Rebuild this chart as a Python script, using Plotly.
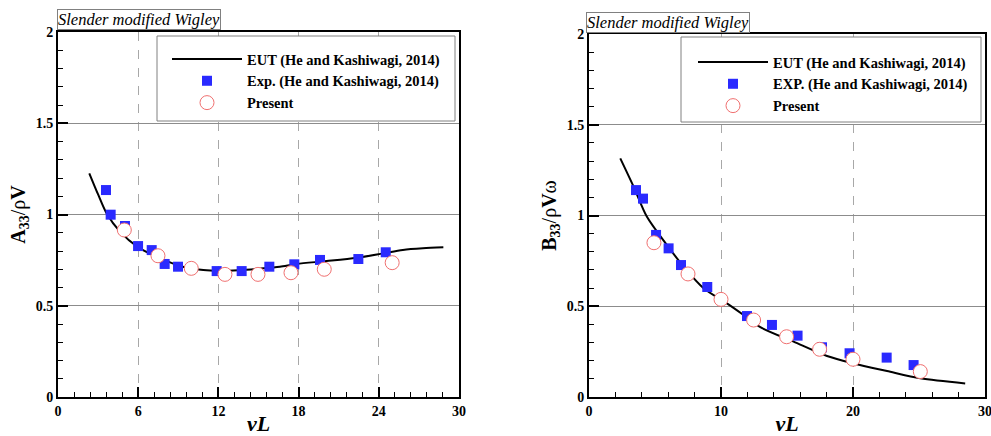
import plotly.graph_objects as go

# ---------------- data: added mass A33/rhoV ----------------
a_eut_x = [2.34, 3.0, 3.63, 4.64, 6.0, 7.38, 9.13, 10.87, 12.1, 13.5, 15.36, 16.6, 17.86, 20.1, 22.34, 24.3, 25.8, 27.3, 28.83]
a_eut_y = [1.226, 1.11, 1.007, 0.906, 0.820, 0.769, 0.718, 0.696, 0.692, 0.695, 0.705, 0.714, 0.729, 0.745, 0.763, 0.787, 0.806, 0.815, 0.820]
a_exp_x = [3.59, 3.94, 5.01, 5.99, 7.01, 7.98, 8.98, 11.87, 13.74, 15.81, 17.68, 19.6, 22.47, 24.52]
a_exp_y = [1.134, 0.999, 0.937, 0.827, 0.805, 0.729, 0.714, 0.690, 0.690, 0.714, 0.727, 0.751, 0.756, 0.793]
a_pre_x = [4.96, 7.48, 9.97, 12.49, 14.96, 17.43, 19.92, 25.0]
a_pre_y = [0.915, 0.774, 0.705, 0.672, 0.672, 0.681, 0.700, 0.736]

# ---------------- data: damping B33/rhoVw ----------------
b_eut_x = [2.37, 3.38, 4.39, 5.91, 7.17, 8.68, 10.45, 11.71, 12.98, 15.5, 18.03, 20.05, 22.58, 25.1, 28.5]
b_eut_y = [1.315, 1.159, 0.993, 0.837, 0.718, 0.599, 0.516, 0.452, 0.385, 0.305, 0.226, 0.185, 0.143, 0.103, 0.075]
b_exp_x = [3.56, 4.09, 5.08, 6.03, 6.97, 8.96, 11.97, 13.86, 15.8, 17.65, 19.74, 22.55, 24.59]
b_exp_y = [1.140, 1.093, 0.893, 0.819, 0.727, 0.606, 0.446, 0.397, 0.338, 0.274, 0.241, 0.217, 0.176]
b_pre_x = [4.92, 7.5, 10.0, 12.47, 14.97, 17.47, 20.0, 25.1]
b_pre_y = [0.850, 0.678, 0.538, 0.424, 0.332, 0.263, 0.208, 0.140]

x_ticks_left = [0, 6, 12, 18, 24, 30]
x_ticks_right = [0, 10, 20, 30]
y_ticks = [0, 0.5, 1, 1.5, 2]

SERIF = "Liberation Serif"
BLUE = "#2a2aff"
PINK = "#f07070"

W, H = 991, 436
fig = go.Figure()

def add_panel(xa, ya, ex, ey, px, py, qx, qy, exp_name, legend):
    fig.add_trace(go.Scatter(x=ex, y=ey, mode="lines", line=dict(color="black", width=2, shape="spline", smoothing=0.8),
                             name="EUT (He and Kashiwagi, 2014)", xaxis=xa, yaxis=ya, legend=legend))
    fig.add_trace(go.Scatter(x=px, y=py, mode="markers", marker=dict(symbol="square", size=10, color=BLUE),
                             name=exp_name, xaxis=xa, yaxis=ya, legend=legend))
    fig.add_trace(go.Scatter(x=qx, y=qy, mode="markers",
                             marker=dict(symbol="circle", size=14, color="white", line=dict(color=PINK, width=1)),
                             name="Present", xaxis=xa, yaxis=ya, legend=legend))

add_panel("x", "y", a_eut_x, a_eut_y, a_exp_x, a_exp_y, a_pre_x, a_pre_y, "Exp. (He and Kashiwagi, 2014)", "legend")
add_panel("x2", "y2", b_eut_x, b_eut_y, b_exp_x, b_exp_y, b_pre_x, b_pre_y, "EXP. (He and Kashiwagi, 2014)", "legend2")

tickfont = dict(family=SERIF, size=14, color="black", weight="bold")

def xaxis(domain, ticks, minor_dt, anchor):
    return dict(domain=domain, anchor=anchor, range=[0, 30], tickvals=ticks, ticks="inside", ticklen=10, tickwidth=2,
                tickcolor="black", showline=True, linewidth=2, linecolor="black", mirror=True,
                showgrid=True, gridcolor="#a8a8a8", griddash="dash", gridwidth=1, zeroline=False, automargin=False,
                ticklabeloverflow="allow",
                minor=dict(dtick=minor_dt, tick0=0, ticks="inside", ticklen=5, tickwidth=1, tickcolor="black", showgrid=False),
                tickfont=tickfont,
                title=dict(text="<b><i>vL</i></b>", font=dict(family=SERIF, size=22, color="black"), standoff=4))

def yaxis(domain, anchor, title):
    return dict(domain=domain, anchor=anchor, range=[0, 2], tickvals=y_ticks, ticks="inside", ticklen=10, tickwidth=2,
                tickcolor="black", showline=True, linewidth=2, linecolor="black", mirror=True,
                showgrid=True, gridcolor="#8c8c8c", gridwidth=1, zeroline=False, automargin=False,
                minor=dict(dtick=0.1, tick0=0, ticks="inside", ticklen=5, tickwidth=1, tickcolor="black", showgrid=False),
                tickfont=tickfont,
                title=dict(text=title, font=dict(family=SERIF, size=20, color="black"), standoff=5))

legfont = dict(family=SERIF, size=14.5, color="black", weight="bold")

fig.update_layout(
    width=W, height=H, margin=dict(l=0, r=0, t=0, b=0),
    paper_bgcolor="white", plot_bgcolor="white", showlegend=True,
    xaxis=xaxis([58 / W, 459 / W], x_ticks_left, 1.2, "y"),
    yaxis=yaxis([1 - 397 / H, 1 - 32 / H], "x", "<b>A</b><b><sub>33</sub></b>/ρ<b>V</b>"),
    xaxis2=xaxis([589 / W, 985 / W], x_ticks_right, 2, "y2"),
    yaxis2=yaxis([1 - 397 / H, 1 - 34 / H], "x2", "<b>B</b><b><sub>33</sub></b>/ρ<b>V</b>ω"),
    legend=dict(x=167 / W, y=1 - 43 / H, xanchor="left", yanchor="top", bgcolor="rgba(0,0,0,0)",
                borderwidth=0, itemwidth=70, tracegroupgap=0, font=legfont),
    legend2=dict(x=693 / W, y=1 - 46 / H, xanchor="left", yanchor="top", bgcolor="rgba(0,0,0,0)",
                 borderwidth=0, itemwidth=70, tracegroupgap=0, font=legfont),
    shapes=[
        dict(type="rect", xref="paper", yref="paper", x0=157 / W, x1=455 / W, y0=1 - 121 / H, y1=1 - 36 / H,
             line=dict(color="#808080", width=1), fillcolor="white", layer="above"),
        dict(type="rect", xref="paper", yref="paper", x0=681 / W, x1=981 / W, y0=1 - 122 / H, y1=1 - 37 / H,
             line=dict(color="#808080", width=1), fillcolor="white", layer="above"),
    ],
    annotations=[
        dict(text="<i>Slender modified Wigley</i>", xref="paper", yref="paper", x=57 / W, y=1 - 9 / H,
             xanchor="left", yanchor="top", showarrow=False, bordercolor="#808080", borderwidth=1, borderpad=0,
             bgcolor="white", font=dict(family=SERIF, size=16.5, color="black")),
        dict(text="<i>Slender modified Wigley</i>", xref="paper", yref="paper", x=586 / W, y=1 - 12 / H,
             xanchor="left", yanchor="top", showarrow=False, bordercolor="#808080", borderwidth=1, borderpad=0,
             bgcolor="white", font=dict(family=SERIF, size=16.5, color="black")),
    ],
)

fig.write_html("out.html")
